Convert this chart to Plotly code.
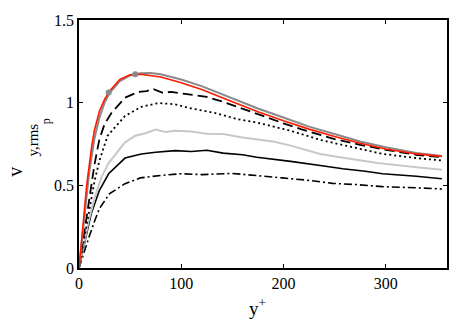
import plotly.graph_objects as go

# wall-normal coordinate y+ and rms profiles
y_red = [0, 2.5, 5, 7.5, 10, 12.5, 15, 20, 25, 30, 40, 50, 60, 70, 80, 100, 120, 150, 175, 200, 225, 250, 275, 300, 330, 355]
v_red = [0, 0.15, 0.33, 0.5, 0.63, 0.74, 0.83, 0.95, 1.02, 1.07, 1.14, 1.168, 1.172, 1.163, 1.155, 1.12, 1.08, 1.005, 0.945, 0.89, 0.84, 0.795, 0.755, 0.72, 0.69, 0.675]

y_gray = [0, 5, 10, 15, 20, 25, 30, 40, 50, 60, 70, 80, 100, 120, 150, 175, 200, 225, 250, 275, 300, 330, 355]
v_gray = [0, 0.3, 0.58, 0.78, 0.91, 1.0, 1.06, 1.13, 1.165, 1.178, 1.18, 1.172, 1.14, 1.1, 1.025, 0.965, 0.91, 0.855, 0.81, 0.765, 0.73, 0.695, 0.678]

y_mark = [29, 55]
v_mark = [1.062, 1.172]

y_dash = [0, 5, 10, 15, 20, 25, 32, 45, 58, 66, 73, 82, 90, 107, 125, 141, 160, 180, 200, 217, 250, 275, 300, 330, 355]
v_dash = [0, 0.2, 0.42, 0.62, 0.78, 0.87, 0.94, 1.03, 1.065, 1.07, 1.082, 1.06, 1.065, 1.05, 1.035, 1.005, 0.965, 0.92, 0.875, 0.84, 0.78, 0.745, 0.715, 0.685, 0.67]

y_dot = [0, 5, 10, 15, 20, 28, 45, 61, 78, 94, 110, 135, 155, 174, 207, 236, 250, 275, 297, 330, 355]
v_dot = [0, 0.17, 0.36, 0.52, 0.65, 0.8, 0.92, 0.975, 0.998, 0.99, 0.965, 0.935, 0.9, 0.88, 0.83, 0.775, 0.755, 0.72, 0.69, 0.665, 0.65]

y_lgray = [0, 5, 10, 16, 22, 29, 45, 55, 65, 75, 85, 94, 110, 125, 141, 160, 174, 190, 207, 236, 260, 292, 330, 355]
v_lgray = [0, 0.14, 0.3, 0.44, 0.55, 0.635, 0.76, 0.8, 0.815, 0.838, 0.822, 0.83, 0.825, 0.812, 0.81, 0.79, 0.78, 0.765, 0.74, 0.69, 0.665, 0.635, 0.61, 0.595]

y_black = [0, 5, 12, 20, 29, 45, 61, 75, 94, 110, 125, 141, 160, 174, 190, 207, 236, 258, 280, 297, 330, 355]
v_black = [0, 0.13, 0.33, 0.47, 0.57, 0.665, 0.69, 0.7, 0.71, 0.705, 0.712, 0.695, 0.685, 0.67, 0.66, 0.645, 0.62, 0.6, 0.585, 0.57, 0.555, 0.54]

y_dd = [0, 5, 10, 15, 20, 30, 45, 60, 80, 100, 120, 150, 175, 199, 225, 248, 270, 297, 330, 355]
v_dd = [0, 0.1, 0.19, 0.28, 0.36, 0.45, 0.51, 0.545, 0.56, 0.57, 0.565, 0.572, 0.56, 0.545, 0.53, 0.512, 0.505, 0.492, 0.485, 0.478]

x_ticks = [0, 100, 200, 300]
y_ticks = [0, 0.5, 1, 1.5]

serif = "Liberation Serif"

fig = go.Figure()
traces = [
    (y_dd, v_dd, "black", "8px,3px,2px,3px", 1.6),
    (y_black, v_black, "black", "solid", 1.6),
    (y_lgray, v_lgray, "#c8c8c8", "solid", 2),
    (y_dot, v_dot, "black", "2px,3px", 1.8),
    (y_dash, v_dash, "black", "10px,5px", 1.8),
    (y_gray, v_gray, "#8a8a8a", "solid", 2),
    (y_red, v_red, "#ff1a00", "solid", 1.6),
]
for xs, ys, col, dash, w in traces:
    fig.add_trace(go.Scatter(x=xs, y=ys, mode="lines",
                             line=dict(color=col, dash=dash, width=w)))
fig.add_trace(go.Scatter(x=y_mark, y=v_mark, mode="markers",
                         marker=dict(color="#8a8a8a", size=6)))

axis_common = dict(showgrid=False, zeroline=False, showline=True, linecolor="black",
                   linewidth=1.5, mirror="ticks", ticks="inside", ticklen=4,
                   tickcolor="black", tickfont=dict(family=serif, size=16, color="black"))
fig.update_xaxes(range=[0, 360], tickvals=x_ticks, ticktext=[str(t) for t in x_ticks], **axis_common)
fig.update_yaxes(range=[0, 1.5], tickvals=y_ticks, ticktext=["0", "0.5", "1", "1.5"], **axis_common)

# axis labels (pixel positions converted to paper coords)
def px(x, y):
    return (x - 79) / 368, (268 - y) / 255

ann = [("y<sup>+</sup>", 257, 322, 19, 0, "bottom"), ("v", 15, 169, 20, -90, "middle"),
       ("y,rms", 33, 137, 15, -90, "middle"), ("p", 46, 117, 12, -90, "middle")]
for txt, ax, ay, fs, ang, ya in ann:
    xp, yp = px(ax, ay)
    fig.add_annotation(text=txt, x=xp, y=yp, xref="paper", yref="paper",
                       xanchor="center", yanchor=ya,
                       showarrow=False, textangle=ang,
                       font=dict(family=serif, size=fs, color="black"))

fig.update_layout(
    width=464, height=332,
    showlegend=False,
    plot_bgcolor="white",
    paper_bgcolor="white",
    margin=dict(l=79, r=17, t=13, b=64),
)
fig.write_html("out.html", config={"displayModeBar": False},
               post_script="document.body.style.margin='0px';")
